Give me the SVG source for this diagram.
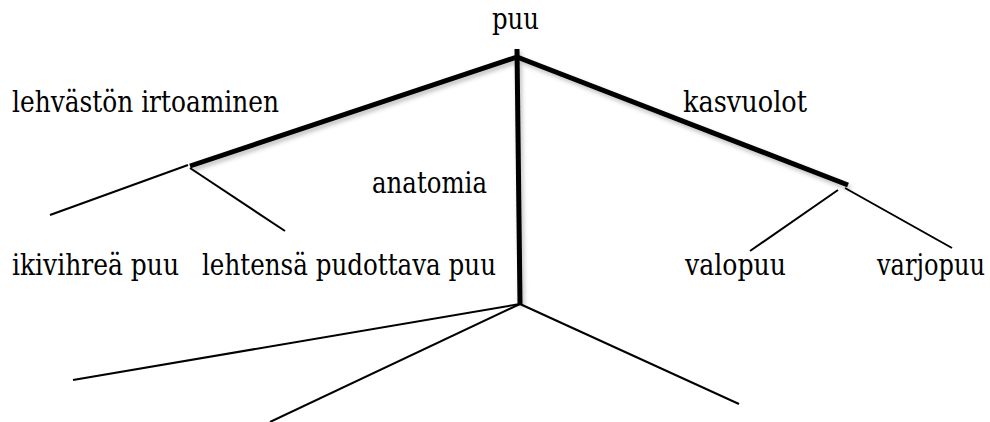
<svg xmlns="http://www.w3.org/2000/svg" width="990" height="422" viewBox="0 0 990 422">
<style>
text{font-family:"DejaVu Serif",serif;font-size:29px;fill:#000}
.thick{stroke:#000;stroke-width:5;fill:none;stroke-linecap:butt}
.thin{stroke:#000;stroke-width:2;fill:none}
</style>
<defs>
<filter id="sh" x="-10%" y="-10%" width="120%" height="130%">
<feDropShadow dx="2" dy="3" stdDeviation="2" flood-color="#000" flood-opacity="0.25"/>
</filter>
</defs>
<rect width="990" height="422" fill="#fff"/>
<g id="connectors">
<g filter="url(#sh)">
<line class="thick" x1="517" y1="57" x2="190" y2="166"/>
<line class="thick" x1="517" y1="49" x2="520" y2="304"/>
<line class="thick" x1="517" y1="57" x2="848" y2="185"/>
</g>
<line class="thin" x1="188" y1="165" x2="50" y2="215"/>
<line class="thin" x1="190" y1="168" x2="285" y2="231"/>
<line class="thin" x1="838" y1="190" x2="750" y2="251"/>
<line class="thin" x1="845" y1="188" x2="952" y2="248"/>
<line class="thin" x1="520" y1="304" x2="73" y2="380"/>
<line class="thin" x1="520" y1="304" x2="270" y2="422"/>
<line class="thin" x1="520" y1="304" x2="739" y2="404"/>
</g>
<g id="n-puu"><text x="492" y="29" textLength="47" lengthAdjust="spacingAndGlyphs">puu</text></g>
<g id="n-lehvaston"><text x="12" y="112" textLength="267" lengthAdjust="spacingAndGlyphs">lehvästön irtoaminen</text></g>
<g id="n-kasvuolot"><text x="683" y="112" textLength="124" lengthAdjust="spacingAndGlyphs">kasvuolot</text></g>
<g id="n-anatomia"><text x="372" y="193" textLength="115" lengthAdjust="spacingAndGlyphs">anatomia</text></g>
<g id="n-ikivihrea"><text x="12" y="275" textLength="167" lengthAdjust="spacingAndGlyphs">ikivihreä puu</text></g>
<g id="n-lehtensa"><text x="202" y="275" textLength="294" lengthAdjust="spacingAndGlyphs">lehtensä pudottava puu</text></g>
<g id="n-valopuu"><text x="685" y="275" textLength="101" lengthAdjust="spacingAndGlyphs">valopuu</text></g>
<g id="n-varjopuu"><text x="985" y="275" text-anchor="end" textLength="108" lengthAdjust="spacingAndGlyphs">varjopuu</text></g>
</svg>
